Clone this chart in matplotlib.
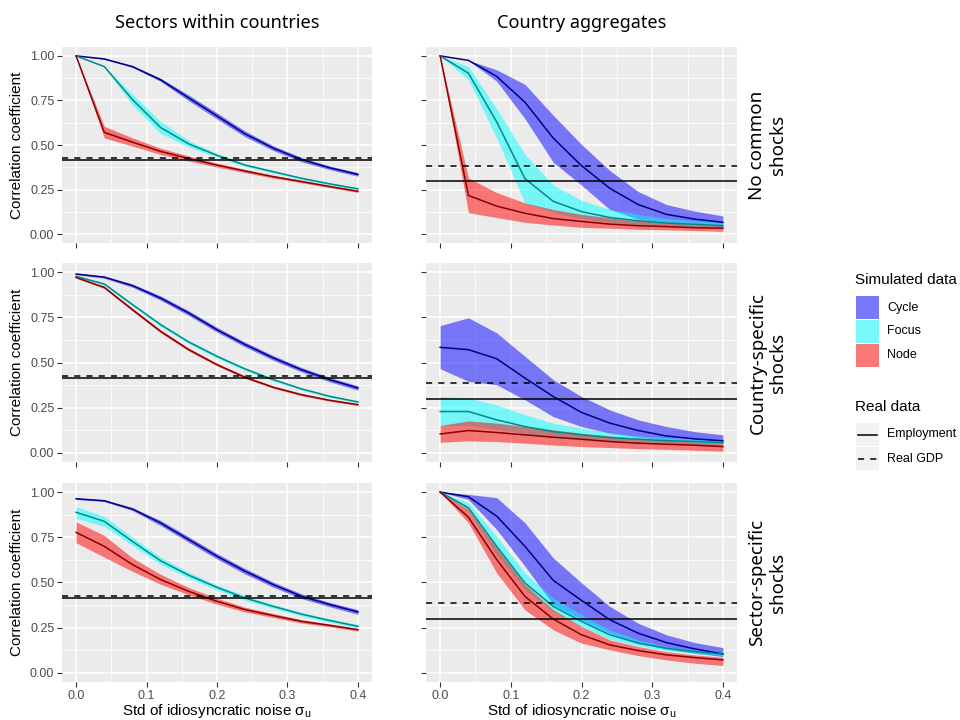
import matplotlib.pyplot as plt
from matplotlib.patches import Rectangle

plt.rcParams['font.family'] = ['Liberation Sans', 'DejaVu Sans']
plt.rcParams['mathtext.fontset'] = 'custom'
plt.rcParams['mathtext.rm'] = 'Liberation Sans'
plt.rcParams['mathtext.it'] = 'Liberation Sans:italic'

sigma_u = [0.0, 0.04, 0.08, 0.12, 0.16, 0.20, 0.24, 0.28, 0.32, 0.36, 0.40]

# real data correlations
sec_employment = 0.415
sec_gdp = 0.425
agg_employment = 0.296
agg_gdp = 0.384

# --- sectors within countries, no common shocks
sec_none_cycle = [1.0, 0.983, 0.94, 0.866, 0.764, 0.663, 0.562, 0.482, 0.418, 0.372, 0.335]
sec_none_cycle_hi = [1.0, 0.985, 0.945, 0.875, 0.78, 0.68, 0.578, 0.495, 0.43, 0.382, 0.345]
sec_none_cycle_lo = [1.0, 0.981, 0.935, 0.857, 0.748, 0.646, 0.546, 0.469, 0.406, 0.362, 0.325]
sec_none_focus = [1.0, 0.94, 0.755, 0.598, 0.506, 0.442, 0.387, 0.35, 0.313, 0.282, 0.254]
sec_none_focus_hi = [1.0, 0.942, 0.785, 0.632, 0.525, 0.452, 0.395, 0.357, 0.32, 0.288, 0.26]
sec_none_focus_lo = [1.0, 0.938, 0.725, 0.565, 0.488, 0.432, 0.379, 0.343, 0.306, 0.276, 0.248]
sec_none_node = [1.0, 0.571, 0.516, 0.464, 0.424, 0.387, 0.354, 0.322, 0.295, 0.267, 0.24]
sec_none_node_hi = [1.0, 0.605, 0.54, 0.482, 0.438, 0.398, 0.363, 0.33, 0.302, 0.273, 0.246]
sec_none_node_lo = [1.0, 0.54, 0.494, 0.447, 0.41, 0.376, 0.345, 0.314, 0.288, 0.261, 0.234]

# --- sectors within countries, country-specific shocks
sec_ctry_cycle = [0.989, 0.972, 0.925, 0.856, 0.773, 0.681, 0.599, 0.525, 0.46, 0.405, 0.359]
sec_ctry_cycle_hi = [0.993, 0.978, 0.934, 0.868, 0.786, 0.694, 0.612, 0.538, 0.472, 0.417, 0.371]
sec_ctry_cycle_lo = [0.985, 0.966, 0.916, 0.844, 0.760, 0.668, 0.586, 0.512, 0.448, 0.393, 0.347]
sec_ctry_focus = [0.976, 0.934, 0.82, 0.709, 0.613, 0.534, 0.464, 0.405, 0.354, 0.313, 0.282]
sec_ctry_focus_hi = [0.980, 0.940, 0.828, 0.718, 0.622, 0.543, 0.472, 0.412, 0.360, 0.319, 0.287]
sec_ctry_focus_lo = [0.972, 0.928, 0.812, 0.700, 0.604, 0.525, 0.456, 0.398, 0.348, 0.307, 0.277]
sec_ctry_node = [0.97, 0.915, 0.792, 0.672, 0.571, 0.488, 0.418, 0.363, 0.322, 0.291, 0.267]
sec_ctry_node_hi = [0.974, 0.921, 0.800, 0.680, 0.579, 0.495, 0.425, 0.369, 0.328, 0.296, 0.272]
sec_ctry_node_lo = [0.966, 0.909, 0.784, 0.664, 0.563, 0.481, 0.411, 0.357, 0.316, 0.286, 0.262]

# --- sectors within countries, sector-specific shocks
sec_sect_cycle = [0.963, 0.952, 0.906, 0.829, 0.737, 0.645, 0.562, 0.488, 0.424, 0.378, 0.337]
sec_sect_cycle_hi = [0.967, 0.957, 0.914, 0.843, 0.752, 0.660, 0.577, 0.502, 0.437, 0.390, 0.350]
sec_sect_cycle_lo = [0.959, 0.947, 0.898, 0.815, 0.722, 0.630, 0.547, 0.474, 0.411, 0.366, 0.324]
sec_sect_focus = [0.888, 0.838, 0.727, 0.62, 0.54, 0.473, 0.414, 0.368, 0.325, 0.29, 0.258]
sec_sect_focus_hi = [0.92, 0.865, 0.75, 0.64, 0.556, 0.487, 0.426, 0.379, 0.335, 0.299, 0.267]
sec_sect_focus_lo = [0.855, 0.81, 0.705, 0.60, 0.524, 0.459, 0.402, 0.357, 0.315, 0.281, 0.249]
sec_sect_node = [0.777, 0.70, 0.599, 0.516, 0.451, 0.396, 0.35, 0.317, 0.285, 0.263, 0.239]
sec_sect_node_hi = [0.835, 0.76, 0.636, 0.545, 0.472, 0.413, 0.363, 0.328, 0.295, 0.271, 0.246]
sec_sect_node_lo = [0.72, 0.64, 0.562, 0.49, 0.432, 0.38, 0.337, 0.306, 0.276, 0.255, 0.232]

# --- country aggregates, no common shocks
agg_none_cycle = [1.0, 0.975, 0.885, 0.74, 0.539, 0.384, 0.257, 0.166, 0.111, 0.084, 0.066]
agg_none_cycle_hi = [1.0, 0.975, 0.922, 0.84, 0.667, 0.503, 0.357, 0.239, 0.166, 0.129, 0.102]
agg_none_cycle_lo = [1.0, 0.975, 0.858, 0.648, 0.403, 0.275, 0.138, 0.084, 0.066, 0.055, 0.044]
agg_none_focus = [1.0, 0.903, 0.63, 0.311, 0.184, 0.126, 0.093, 0.075, 0.062, 0.055, 0.047]
agg_none_focus_hi = [1.0, 0.94, 0.703, 0.448, 0.275, 0.189, 0.138, 0.111, 0.087, 0.075, 0.066]
agg_none_focus_lo = [1.0, 0.867, 0.539, 0.175, 0.12, 0.087, 0.066, 0.053, 0.044, 0.038, 0.033]
agg_none_node = [1.0, 0.217, 0.157, 0.117, 0.087, 0.071, 0.056, 0.047, 0.042, 0.036, 0.033]
agg_none_node_hi = [1.0, 0.315, 0.233, 0.175, 0.138, 0.111, 0.091, 0.075, 0.064, 0.055, 0.047]
agg_none_node_lo = [1.0, 0.12, 0.093, 0.066, 0.051, 0.038, 0.033, 0.027, 0.024, 0.02, 0.015]

# --- country aggregates, country-specific shocks
agg_ctry_cycle = [0.584, 0.571, 0.521, 0.414, 0.312, 0.224, 0.165, 0.124, 0.094, 0.078, 0.067]
agg_ctry_cycle_hi = [0.704, 0.747, 0.664, 0.534, 0.405, 0.312, 0.238, 0.183, 0.146, 0.118, 0.10]
agg_ctry_cycle_lo = [0.466, 0.396, 0.377, 0.294, 0.201, 0.146, 0.109, 0.087, 0.072, 0.063, 0.054]
agg_ctry_focus = [0.229, 0.229, 0.183, 0.146, 0.118, 0.10, 0.085, 0.076, 0.068, 0.063, 0.057]
agg_ctry_focus_hi = [0.312, 0.303, 0.266, 0.211, 0.165, 0.137, 0.113, 0.096, 0.085, 0.078, 0.072]
agg_ctry_focus_lo = [0.152, 0.152, 0.131, 0.109, 0.087, 0.072, 0.063, 0.054, 0.048, 0.044, 0.039]
agg_ctry_node = [0.105, 0.124, 0.113, 0.10, 0.087, 0.076, 0.063, 0.054, 0.048, 0.043, 0.035]
agg_ctry_node_hi = [0.152, 0.177, 0.165, 0.146, 0.128, 0.109, 0.094, 0.081, 0.07, 0.061, 0.054]
agg_ctry_node_lo = [0.059, 0.067, 0.063, 0.054, 0.044, 0.035, 0.03, 0.024, 0.02, 0.015, 0.01]

# --- country aggregates, sector-specific shocks
agg_sect_cycle = [1.0, 0.974, 0.867, 0.70, 0.512, 0.401, 0.294, 0.22, 0.168, 0.133, 0.105]
agg_sect_cycle_hi = [1.0, 0.987, 0.969, 0.83, 0.636, 0.498, 0.368, 0.275, 0.211, 0.168, 0.14]
agg_sect_cycle_lo = [1.0, 0.959, 0.793, 0.59, 0.377, 0.294, 0.22, 0.165, 0.131, 0.109, 0.091]
agg_sect_focus = [1.0, 0.913, 0.70, 0.497, 0.368, 0.285, 0.211, 0.165, 0.137, 0.118, 0.104]
agg_sect_focus_hi = [1.0, 0.941, 0.756, 0.553, 0.414, 0.322, 0.238, 0.183, 0.146, 0.128, 0.115]
agg_sect_focus_lo = [1.0, 0.895, 0.654, 0.46, 0.34, 0.257, 0.187, 0.15, 0.124, 0.109, 0.094]
agg_sect_node = [1.0, 0.861, 0.627, 0.423, 0.298, 0.211, 0.155, 0.124, 0.10, 0.085, 0.072]
agg_sect_node_hi = [1.0, 0.904, 0.691, 0.488, 0.349, 0.257, 0.183, 0.146, 0.118, 0.10, 0.087]
agg_sect_node_lo = [1.0, 0.83, 0.553, 0.349, 0.238, 0.165, 0.128, 0.096, 0.072, 0.054, 0.041]

networks = ['Cycle', 'Focus', 'Node']
fill_colors = ['blue', 'cyan', 'red']
line_colors = ['darkblue', 'darkcyan', 'darkred']
col_titles = ['Sectors within countries', 'Country aggregates']
row_titles = ['No common\nshocks', 'Country-specific\nshocks', 'Sector-specific\nshocks']

panels = [
    [
        [(sec_none_cycle, sec_none_cycle_lo, sec_none_cycle_hi),
         (sec_none_focus, sec_none_focus_lo, sec_none_focus_hi),
         (sec_none_node, sec_none_node_lo, sec_none_node_hi)],
        [(agg_none_cycle, agg_none_cycle_lo, agg_none_cycle_hi),
         (agg_none_focus, agg_none_focus_lo, agg_none_focus_hi),
         (agg_none_node, agg_none_node_lo, agg_none_node_hi)],
    ],
    [
        [(sec_ctry_cycle, sec_ctry_cycle_lo, sec_ctry_cycle_hi),
         (sec_ctry_focus, sec_ctry_focus_lo, sec_ctry_focus_hi),
         (sec_ctry_node, sec_ctry_node_lo, sec_ctry_node_hi)],
        [(agg_ctry_cycle, agg_ctry_cycle_lo, agg_ctry_cycle_hi),
         (agg_ctry_focus, agg_ctry_focus_lo, agg_ctry_focus_hi),
         (agg_ctry_node, agg_ctry_node_lo, agg_ctry_node_hi)],
    ],
    [
        [(sec_sect_cycle, sec_sect_cycle_lo, sec_sect_cycle_hi),
         (sec_sect_focus, sec_sect_focus_lo, sec_sect_focus_hi),
         (sec_sect_node, sec_sect_node_lo, sec_sect_node_hi)],
        [(agg_sect_cycle, agg_sect_cycle_lo, agg_sect_cycle_hi),
         (agg_sect_focus, agg_sect_focus_lo, agg_sect_focus_hi),
         (agg_sect_node, agg_sect_node_lo, agg_sect_node_hi)],
    ],
]
real_lines = [(sec_employment, sec_gdp), (agg_employment, agg_gdp)]

W, H = 960, 720
col_px = [(62, 372), (426, 737)]
row_px = [(47, 243), (263, 462), (483, 682)]

fig = plt.figure(figsize=(9.6, 7.2), dpi=100)
title_font = ['Noto Sans', 'DejaVu Sans']


def draw_panel(ax, series, emp, gdp):
    ax.set_facecolor('#EBEBEB')
    for spine in ax.spines.values():
        spine.set_visible(False)
    ax.set_xlim(-0.02, 0.42)
    ax.set_ylim(-0.05, 1.05)
    ax.set_xticks([0, 0.1, 0.2, 0.3, 0.4])
    ax.set_xticks([0.05, 0.15, 0.25, 0.35], minor=True)
    ax.set_yticks([0, 0.25, 0.5, 0.75, 1.0])
    ax.set_yticks([0.125, 0.375, 0.625, 0.875], minor=True)
    ax.grid(which='major', color='white', lw=1.1)
    ax.grid(which='minor', color='white', lw=0.55)
    ax.set_axisbelow(True)
    ax.tick_params(which='major', length=3.5, width=0.8, color='#333333',
                   labelsize=9, labelcolor='#4D4D4D', pad=2)
    ax.tick_params(which='minor', length=0)
    # ribbons first, mean lines and real-data lines on top
    for (mean, lo, hi), fc in zip(series, fill_colors):
        ax.fill_between(sigma_u, lo, hi, color=fc, alpha=0.5, lw=0)
    for (mean, lo, hi), lc in zip(series, line_colors):
        ax.plot(sigma_u, mean, color=lc, lw=1.1)
    ax.axhline(emp, color='black', lw=1.1)
    ax.axhline(gdp, color='black', lw=1.1, linestyle=(0, (4, 4)))


for r in range(3):
    for c in range(2):
        x0, x1 = col_px[c]
        y0, y1 = row_px[r]
        ax = fig.add_axes([x0 / W, 1 - y1 / H, (x1 - x0) / W, (y1 - y0) / H])
        draw_panel(ax, panels[r][c], *real_lines[c])
        ax.set_yticklabels(['0.00', '0.25', '0.50', '0.75', '1.00'])
        if c == 0:
            ax.set_ylabel('Correlation coefficient', fontsize=11, labelpad=4)
        else:
            ax.tick_params(labelleft=False)
            ax.text(1.098, 0.5, row_titles[r], transform=ax.transAxes,
                    rotation=90, ha='center', va='center', multialignment='center',
                    fontsize=13.5, family=title_font, linespacing=1.15)
        if r == 2:
            ax.set_xticklabels(['0.0', '0.1', '0.2', '0.3', '0.4'])
            ax.set_xlabel('Std of idiosyncratic noise σ$_\\mathregular{u}$',
                          fontsize=11, labelpad=0.5)
        else:
            ax.tick_params(labelbottom=False)
        if r == 0:
            ax.set_title(col_titles[c], fontsize=13, family=title_font, pad=14)

# legend drawn in its own pixel-space axes
lax = fig.add_axes([850 / W, 1 - 480 / H, 110 / W, 220 / H])
lax.set_xlim(850, 960)
lax.set_ylim(480, 260)
lax.axis('off')
lax.text(855, 280, 'Simulated data', fontsize=11, va='center', ha='left')
for i, (name, fc) in enumerate(zip(networks, fill_colors)):
    top = 296 + i * 24
    lax.add_patch(Rectangle((856, top), 23, 23, facecolor='#F2F2F2', lw=0))
    lax.add_patch(Rectangle((856, top), 23, 23, facecolor=fc, alpha=0.5, lw=0))
    lax.text(887, top + 11.5, name, fontsize=9, va='center', ha='left')
lax.text(855, 407, 'Real data', fontsize=11, va='center', ha='left')
for i, (name, ls) in enumerate(zip(['Employment', 'Real GDP'], ['-', (0, (4, 4))])):
    top = 423 + i * 24
    lax.add_patch(Rectangle((856, top), 23, 23, facecolor='#F2F2F2', lw=0))
    lax.plot([858, 877], [top + 11.5, top + 11.5], color='black', lw=1.1, linestyle=ls)
    lax.text(887, top + 11.5, name, fontsize=9, va='center', ha='left')

fig.savefig('out.png', dpi=100)
